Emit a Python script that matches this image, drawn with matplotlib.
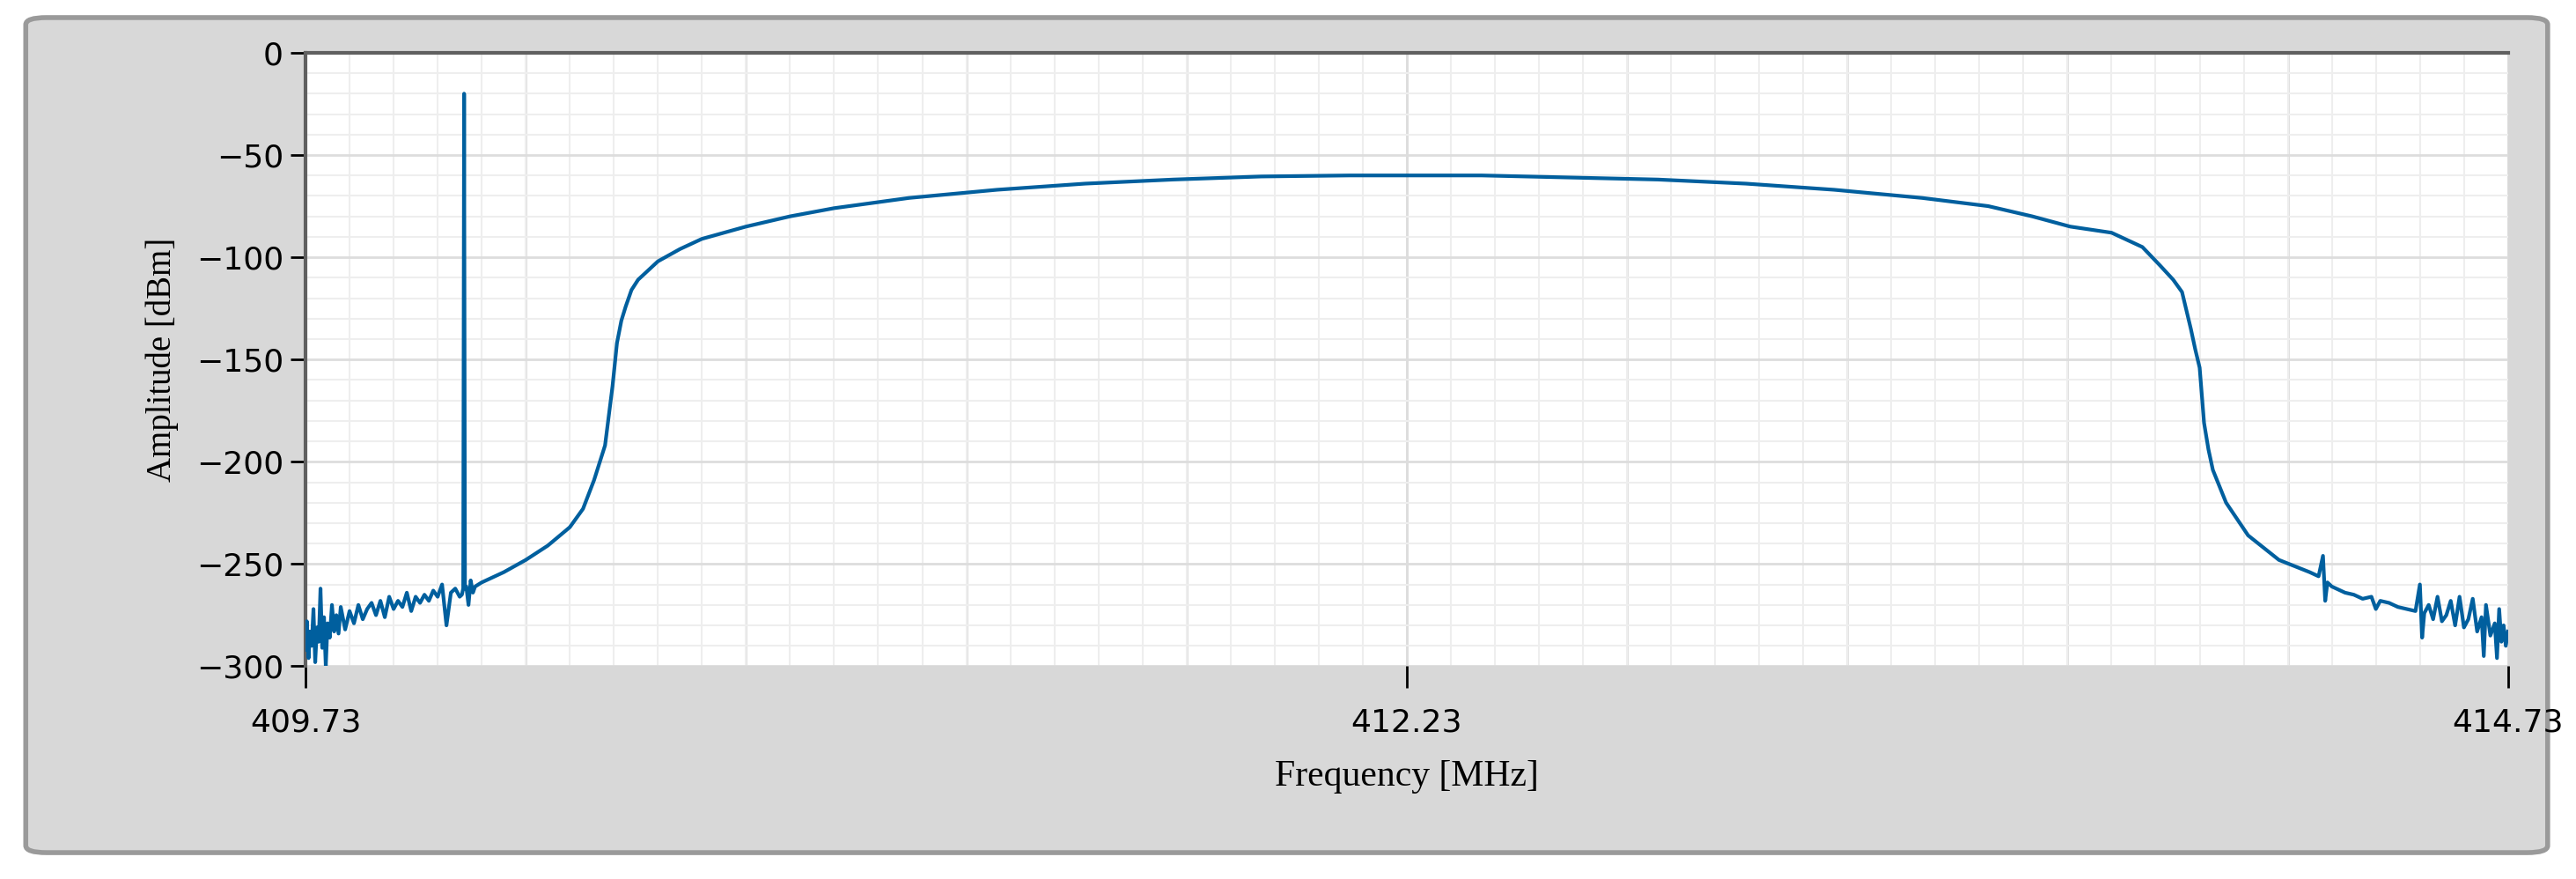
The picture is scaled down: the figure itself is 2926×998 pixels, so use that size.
import matplotlib.pyplot as plt
from matplotlib.patches import FancyBboxPatch

# noise floor on the left, with the spur at 410.09 MHz
left_freq = [409.73, 409.733, 409.737, 409.74, 409.744, 409.748, 409.752, 409.756, 409.76, 409.764,
             409.768, 409.772, 409.776, 409.78, 409.785, 409.79, 409.795, 409.80, 409.805, 409.81,
             409.82, 409.83, 409.84, 409.85, 409.86, 409.87, 409.88, 409.89, 409.90, 409.91,
             409.92, 409.93, 409.94, 409.95, 409.96, 409.97, 409.98, 409.99, 410.00, 410.01,
             410.02, 410.03, 410.04, 410.05, 410.06, 410.07, 410.08, 410.085, 410.088, 410.09,
             410.092, 410.095, 410.10, 410.105, 410.11, 410.115]
left_amp = [-292, -278, -296, -283, -290, -272, -298, -281, -288, -262,
            -291, -276, -300, -279, -286, -270, -283, -275, -284, -271,
            -282, -273, -279, -270, -277, -272, -269, -275, -268, -276,
            -266, -272, -268, -271, -264, -273, -266, -269, -265, -268,
            -263, -266, -260, -280, -264, -262, -266, -265, -262, -20,
            -262, -261, -270, -258, -264, -261]

# smooth channel shape
band_freq = [410.13, 410.18, 410.23, 410.28, 410.33, 410.36, 410.385, 410.41, 410.427, 410.437,
             410.447, 410.457, 410.47, 410.485, 410.51, 410.53, 410.58, 410.63, 410.73, 410.83,
             410.93, 411.1, 411.3, 411.5, 411.7, 411.9, 412.1, 412.23, 412.4, 412.6,
             412.8, 413.0, 413.2, 413.4, 413.55, 413.65, 413.736, 413.83, 413.9, 413.94,
             413.97, 413.99, 414.01, 414.02, 414.03, 414.04, 414.05, 414.06, 414.09, 414.14,
             414.21, 414.28]
band_amp = [-259, -254, -248, -241, -232, -223, -209, -192, -163, -142,
            -131, -124, -116, -111, -106, -102, -96, -91, -85, -80,
            -76, -71, -67, -64, -62, -60.5, -60, -60, -60, -61,
            -62, -64, -67, -71, -75, -80, -85, -88, -95, -104,
            -111, -117, -135, -145, -154, -181, -194, -204, -220, -236,
            -248, -254]

# noise floor on the right
right_freq = [414.30, 414.31, 414.315, 414.32, 414.33, 414.34, 414.36, 414.38, 414.40, 414.42,
              414.43, 414.44, 414.46, 414.48, 414.50, 414.52, 414.53, 414.535, 414.54, 414.55,
              414.56, 414.57, 414.58, 414.59, 414.60, 414.61, 414.62, 414.63, 414.64, 414.65,
              414.66, 414.67, 414.675, 414.68, 414.69, 414.70, 414.705, 414.71, 414.715, 414.72,
              414.725, 414.73]
right_amp = [-256, -246, -268, -259, -261, -262, -264, -265, -267, -266,
             -272, -268, -269, -271, -272, -273, -260, -286, -274, -270,
             -277, -266, -278, -275, -268, -280, -266, -281, -277, -267,
             -283, -276, -295, -270, -285, -279, -296, -272, -288, -280,
             -290, -283]

freq = left_freq + band_freq + right_freq
amp = left_amp + band_amp + right_amp

fig = plt.figure(figsize=(29.26, 9.98), dpi=100)
panel = FancyBboxPatch((0.010, 0.03), 0.979, 0.95, boxstyle="round,pad=0,rounding_size=0.008",
                       transform=fig.transFigure, facecolor='#d8d8d8', edgecolor='#9a9a9a',
                       linewidth=4, zorder=-1)
fig.patches.append(panel)

ax = fig.add_axes([0.1186, 0.242, 0.855, 0.698])
ax.set_zorder(1)
ax.set_facecolor('white')
ax.plot(freq, amp, color='#005f9e', lw=3, zorder=3)

ax.set_xlim(409.73, 414.73)
ax.set_ylim(-300, 0)
ax.set_xticks([409.73, 412.23, 414.73])
ax.set_xticklabels(['409.73', '412.23', '414.73'])
ax.set_yticks([0, -50, -100, -150, -200, -250, -300])
ax.set_xticks([409.73 + 0.1 * i for i in range(51)], minor=True)
ax.set_yticks(list(range(-300, 1, 10)), minor=True)
ax.grid(True, which='minor', color='#eeeeee', lw=1.5, zorder=0)
ax.grid(True, which='major', color='#dddddd', lw=2, zorder=1)
for v in [409.73 + 0.5 * i for i in range(11)]:
    ax.axvline(v, color='#dddddd', lw=2, zorder=1)

ax.tick_params(axis='y', which='major', length=12, width=2, labelsize=26, pad=6)
ax.tick_params(axis='x', which='major', length=18, width=2, labelsize=26, pad=16, direction='out')
ax.tick_params(which='minor', length=0)
for lab in ax.get_xticklabels() + ax.get_yticklabels():
    lab.set_family(['Liberation Sans Narrow', 'DejaVu Sans'])

for side in ['top', 'left']:
    ax.spines[side].set_color('#606060')
    ax.spines[side].set_linewidth(3)
for side in ['right', 'bottom']:
    ax.spines[side].set_visible(False)

ax.set_xlabel('Frequency [MHz]', fontsize=30, family=['Liberation Serif', 'DejaVu Serif'], labelpad=18)
ax.set_ylabel('Amplitude [dBm]', fontsize=28, family=['Liberation Serif', 'DejaVu Serif'], labelpad=14)

fig.savefig('out.png', dpi=100)
